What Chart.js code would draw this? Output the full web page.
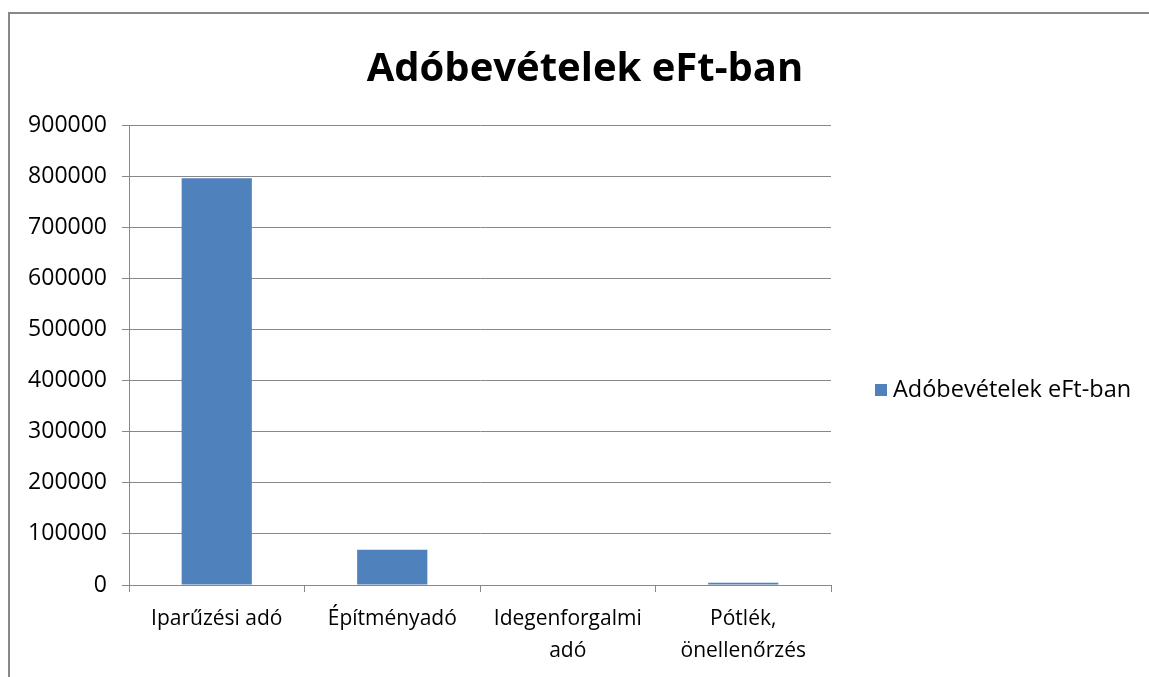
<!DOCTYPE html>
<html>
<head>
<meta charset="utf-8">
<script src="https://cdn.jsdelivr.net/npm/chart.js@4"></script>
<style>
    body { margin: 0; background: #fff; }
    #wrap { position: relative; width: 1149px; height: 677px; overflow: hidden; }
    #frame { position: absolute; left: 8px; top: 12px; width: 1160px; height: 700px; border: 2px solid #888; box-sizing: border-box; }
    canvas { position: absolute; left: 0; top: 0; }
</style>
</head>
<body>
<div id="wrap">
    <div id="frame"></div>
    <canvas id="taxChart" width="1149" height="677"></canvas>
</div>
<script>
const categories = ['Iparűzési adó', 'Építményadó', ['Idegenforgalmi', 'adó'], ['Pótlék,', 'önellenőrzés']];
const seriesName = 'Adóbevételek eFt-ban';
const chartTitle = 'Adóbevételek eFt-ban';
const values = [796000, 69000, 0, 4500];
const yTicks = [0, 100000, 200000, 300000, 400000, 500000, 600000, 700000, 800000, 900000];

const FONT = "'Open Sans', 'Liberation Sans', sans-serif";
const BAR_COLOR = '#4F81BD';
const LINE_COLOR = '#888888';

// title and legend drawn by hand so the plot area keeps its exact place
const frameText = {
    id: 'frameText',
    afterDraw(chart) {
        const ctx = chart.ctx;
        ctx.save();
        ctx.fillStyle = '#000';
        ctx.textBaseline = 'middle';
        ctx.font = 'bold 40px ' + FONT;
        ctx.textAlign = 'center';
        ctx.fillText(chartTitle, 585, 70);

        ctx.fillStyle = BAR_COLOR;
        ctx.fillRect(875, 384, 12, 12);
        ctx.fillStyle = '#000';
        ctx.font = '23.5px ' + FONT;
        ctx.textAlign = 'left';
        ctx.fillText(seriesName, 893, 390);
        ctx.restore();
    }
};

const ctx = document.getElementById('taxChart').getContext('2d');
new Chart(ctx, {
    type: 'bar',
    data: {
        labels: categories,
        datasets: [{
            label: seriesName,
            data: values,
            backgroundColor: BAR_COLOR,
            borderWidth: 0,
            categoryPercentage: 1,
            barPercentage: 0.4
        }]
    },
    options: {
        responsive: false,
        animation: false,
        layout: { padding: { left: 10, right: 318, top: 125, bottom: 0 } },
        plugins: {
            legend: { display: false },
            tooltip: { enabled: false },
            title: { display: false }
        },
        scales: {
            x: {
                afterFit(scale) { scale.height = 92; },
                grid: { drawOnChartArea: false, drawTicks: true, tickLength: 7, color: LINE_COLOR, lineWidth: 1 },
                border: { color: LINE_COLOR, width: 1 },
                ticks: {
                    color: '#000',
                    padding: 11,
                    maxRotation: 0,
                    autoSkip: false,
                    font: { family: FONT, size: 21, lineHeight: 1.52 }
                }
            },
            y: {
                min: 0,
                max: 900000,
                afterFit(scale) { scale.width = 119; },
                afterBuildTicks(scale) { scale.ticks = yTicks.map(v => ({ value: v })); },
                grid: { color: LINE_COLOR, lineWidth: 1, tickLength: 7 },
                border: { color: LINE_COLOR, width: 1 },
                ticks: {
                    color: '#000',
                    padding: 15,
                    callback: v => String(v),
                    font: { family: FONT, size: 23 }
                }
            }
        }
    },
    plugins: [frameText]
});
</script>
</body>
</html>
